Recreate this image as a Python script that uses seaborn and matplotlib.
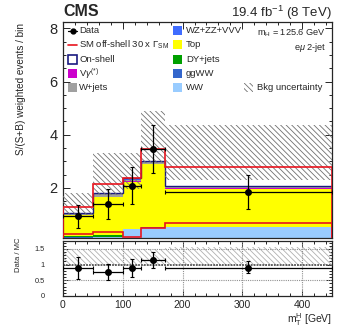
import numpy as np
import pandas as pd
import matplotlib
matplotlib.use("Agg")
import matplotlib.pyplot as plt
from matplotlib.patches import Rectangle
from matplotlib.lines import Line2D
from matplotlib.ticker import MultipleLocator
import seaborn as sns

# ── values ────────────────────────────────────────────────────────────────────
edges = [0, 50, 100, 130, 170, 450]
ww = [0.13, 0.15, 0.44, 0.50, 0.52]
ggww = [0.02, 0.02, 0.02, 0.02, 0.03]
dy = [0.06, 0.05, 0.0, 0.0, 0.0]
top = [0.77, 1.45, 1.78, 2.38, 1.43]
vgamma = [0.01, 0.01, 0.01, 0.01, 0.01]
wjets = [0.05, 0.09, 0.06, 0.05, 0.05]
vv = [0.02, 0.04, 0.04, 0.02, 0.03]
onshell = [0.01, 0.01, 0.03, 0.02, 0.01]
offshell = [0.26, 0.33, 0.15, 0.48, 0.69]
offshell_stacked = [1.30, 2.15, 2.38, 3.47, 2.80]
unc_lo = [1.00, 1.75, 1.98, 2.95, 2.30]
unc_hi = [1.82, 3.33, 3.33, 4.88, 4.38]

data_x = [25, 75, 115, 150, 310]
data_y = [0.94, 1.40, 2.08, 3.46, 1.86]
data_lo = [0.49, 0.83, 1.40, 2.57, 1.21]
data_hi = [1.36, 1.96, 2.79, 4.38, 2.49]

ratio_y = [0.88, 0.76, 0.88, 1.15, 0.88]
ratio_lo = [0.54, 0.50, 0.60, 0.88, 0.72]
ratio_hi = [1.23, 1.01, 1.17, 1.41, 1.11]
ratio_unc_lo = [0.97, 0.97, 0.97, 0.97, 0.97]
ratio_unc_hi = [1.50, 1.50, 1.50, 1.50, 1.55]

processes = ["WZ+ZZ+VVV", "W+jets", r"V$\gamma^{(*)}$", "Top", "DY+jets", "ggWW", "WW"]
proc_values = [vv, wjets, vgamma, top, dy, ggww, ww]
colors = {
    "WZ+ZZ+VVV": "#3f6cff",
    "W+jets": "#a0a0a0",
    r"V$\gamma^{(*)}$": "#cc00cc",
    "Top": "#ffff00",
    "DY+jets": "#00a000",
    "ggWW": "#3366cc",
    "WW": "#99ccff",
}

# ── style ─────────────────────────────────────────────────────────────────────
sns.set_style("ticks")
plt.rcParams["font.family"] = ["Liberation Sans", "DejaVu Sans"]
plt.rcParams["mathtext.fontset"] = "custom"
plt.rcParams["mathtext.rm"] = "Liberation Sans"
plt.rcParams["mathtext.it"] = "Liberation Sans:italic"
plt.rcParams["mathtext.bf"] = "Liberation Sans:bold"
plt.rcParams["hatch.linewidth"] = 0.6
plt.rcParams["hatch.color"] = "#707070"
plt.rcParams["axes.linewidth"] = 0.9

W, H = 349, 333
fig = plt.figure(figsize=(W / 100, H / 100), dpi=100)
ax = fig.add_axes([63 / W, 1 - 238 / H, 269 / W, 216 / H])
rax = fig.add_axes([63 / W, 1 - 296 / H, 269 / W, 55 / H])

edges_a = np.array(edges)
centers = np.array(data_x)
xerr = [centers - edges_a[:-1], edges_a[1:] - centers]

# stacked backgrounds
rows = []
for name, vals in zip(processes, proc_values):
    for c, v in zip(0.5 * (edges_a[:-1] + edges_a[1:]), vals):
        rows.append({"mT": c, "w": v, "proc": name})
df = pd.DataFrame(rows)
sns.histplot(data=df, x="mT", weights="w", hue="proc", hue_order=processes,
             palette=colors, bins=edges, multiple="stack", element="step",
             fill=True, alpha=1, linewidth=0, legend=False, ax=ax, zorder=2)

# on-shell: thin hollow layer on top of the stack
bkg_sum = np.sum(np.array(proc_values), axis=0)
ax.stairs(bkg_sum + np.array(onshell), edges, baseline=None,
          color="#1a1a80", linewidth=1.0, zorder=3)

# uncertainty band
ax.stairs(unc_hi, edges, baseline=unc_lo, fill=True, facecolor="none",
          edgecolor="#707070", hatch="\\" * 6, linewidth=0, zorder=4)

# off-shell signal lines
ax.stairs(offshell_stacked, edges, color="#e8141e", linewidth=1.2, zorder=5)
ax.stairs(offshell, edges, color="#e8141e", linewidth=1.2, zorder=5)

# data
ax.errorbar(data_x, data_y, xerr=xerr,
            yerr=[np.array(data_y) - data_lo, np.array(data_hi) - data_y],
            fmt="o", color="black", markersize=4, elinewidth=0.9,
            capsize=1.2, capthick=0.8, zorder=6)

ax.set_xlim(0, 450)
ax.set_ylim(0.12, 8.24)
ax.set_xlabel("")
ax.set_ylabel("")
ax.xaxis.set_major_locator(MultipleLocator(100))
ax.xaxis.set_minor_locator(MultipleLocator(20))
ax.yaxis.set_major_locator(MultipleLocator(2))
ax.yaxis.set_minor_locator(MultipleLocator(0.5))
ax.tick_params(which="both", direction="in", top=True, right=True, width=0.7)
ax.tick_params(which="major", length=5, labelsize=10.5, pad=4)
ax.tick_params(which="minor", length=2.5)
ax.tick_params(axis="x", labelbottom=False)

# ── ratio panel ───────────────────────────────────────────────────────────────
rax.stairs(ratio_unc_hi, edges, baseline=ratio_unc_lo, fill=True, facecolor="none",
           edgecolor="#b0b0b0", hatch="\\" * 6, linewidth=0, zorder=1)
for yv in (0.5, 1.5):
    rax.axhline(yv, color="#909090", linestyle=(0, (1, 1)), linewidth=0.8, zorder=2)
for xv in (100, 200, 300, 400):
    rax.axvline(xv, color="#909090", linestyle=(0, (1, 1)), linewidth=0.8, zorder=2)
rax.axhline(1.0, color="#555555", linestyle=(0, (1, 0.6)), linewidth=1.3, zorder=2)

rax.errorbar(data_x, ratio_y, xerr=xerr,
             yerr=[np.array(ratio_y) - ratio_lo, np.array(ratio_hi) - ratio_y],
             fmt="o", color="black", markersize=4, elinewidth=0.9,
             capsize=1.2, capthick=0.8, zorder=6)

rax.set_xlim(0, 450)
rax.set_ylim(0, 1.75)
rax.xaxis.set_major_locator(MultipleLocator(100))
rax.xaxis.set_minor_locator(MultipleLocator(20))
rax.yaxis.set_major_locator(MultipleLocator(0.5))
rax.yaxis.set_minor_locator(MultipleLocator(0.1))
rax.yaxis.set_major_formatter(plt.FuncFormatter(lambda v, p: f"{v:g}"))
rax.tick_params(which="both", direction="in", top=True, right=True, width=0.7)
rax.tick_params(which="major", length=4)
rax.tick_params(which="minor", length=2)
rax.tick_params(axis="x", labelsize=7.5, pad=3)
rax.tick_params(axis="y", labelsize=5.3, pad=13)

# ── texts ─────────────────────────────────────────────────────────────────────
def fx(px):
    return px / W


def fy(py):
    return 1 - py / H


fig.text(fx(63), fy(12), "CMS", fontsize=11.5, fontweight="bold", va="center", ha="left")
fig.text(fx(332), fy(13), r"19.4 fb$^{-1}$ (8 TeV)", fontsize=9.5, va="center", ha="right")
fig.text(fx(21), fy(23), "S/(S+B) weighted events / bin", rotation=90,
         fontsize=7.2, ha="center", va="top")
fig.text(fx(19), fy(237), "Data / MC", rotation=90, fontsize=5.5, ha="center", va="top")
fig.text(fx(332), fy(320), r"m$_{\rm T}^{\rm H}$ [GeV]", fontsize=7.5, ha="right", va="center")
fig.text(fx(326), fy(33), r"m$_{\rm H}$ = 125.6 GeV", fontsize=6.6, ha="right", va="center")
fig.text(fx(326), fy(47), r"e$\mu$ 2-jet", fontsize=6.6, ha="right", va="center")

# ── legend drawn by hand (ROOT-like fixed columns) ────────────────────────────
row_y = [30.7, 44.8, 59.0, 73.3, 87.6]
LFS = 6.8


def box(cx, cy, **kw):
    fig.add_artist(Rectangle((fx(cx - 4.5), fy(cy + 4.5)), 9 / W, 9 / H,
                             transform=fig.transFigure, **kw))


def label(tx, cy, s):
    fig.text(fx(tx), fy(cy), s, fontsize=LFS, ha="left", va="center")


# column 1
cy = row_y[0]
fig.add_artist(Line2D([fx(68), fx(77)], [fy(cy), fy(cy)], color="black", lw=0.9,
                      transform=fig.transFigure))
fig.add_artist(Line2D([fx(72.5)], [fy(cy)], marker="o", color="black", markersize=3.5,
                      transform=fig.transFigure))
label(79, cy, "Data")
cy = row_y[1]
fig.add_artist(Line2D([fx(68), fx(77)], [fy(cy), fy(cy)], color="#e8141e", lw=1.2,
                      transform=fig.transFigure))
label(79, cy, r"SM off-shell 30 x $\Gamma_{\rm SM}$")
box(72.5, row_y[2], facecolor="none", edgecolor="#1a1a80", linewidth=1.2)
label(79, row_y[2], "On-shell")
box(72.5, row_y[3], facecolor=colors[r"V$\gamma^{(*)}$"], edgecolor="none")
label(79, row_y[3], r"V$\gamma^{(*)}$")
box(72.5, row_y[4], facecolor=colors["W+jets"], edgecolor="none")
label(79, row_y[4], "W+jets")

# column 2
for name, cy in zip(["WZ+ZZ+VVV", "Top", "DY+jets", "ggWW", "WW"], row_y):
    box(177.5, cy, facecolor=colors[name], edgecolor="none")
    label(186, cy, name)

# column 3
box(248.5, row_y[4], facecolor="none", edgecolor="#707070", hatch="\\" * 6, linewidth=0)
label(257, row_y[4], "Bkg uncertainty")

fig.savefig("out.png", dpi=100)
